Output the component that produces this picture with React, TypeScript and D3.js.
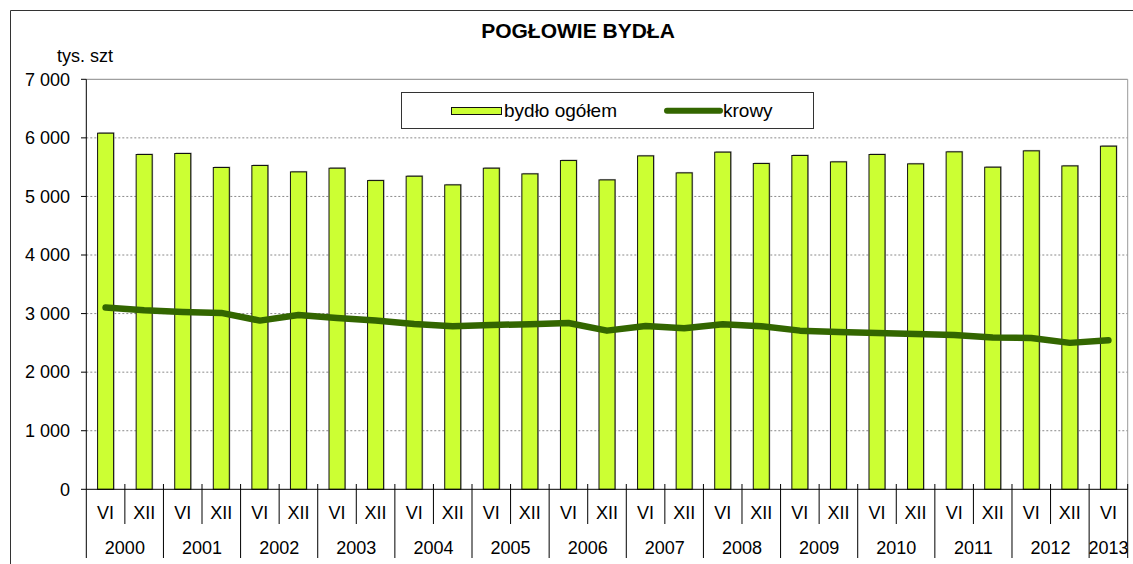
import React from "react";
import * as d3 from "d3";

const periods = ["VI","XII","VI","XII","VI","XII","VI","XII","VI","XII","VI","XII","VI","XII","VI","XII","VI","XII","VI","XII","VI","XII","VI","XII","VI","XII","VI"];
const years = ["2000","2001","2002","2003","2004","2005","2006","2007","2008","2009","2010","2011","2012","2013"];
const cattle = [6080,5716,5733,5494,5528,5419,5482,5271,5345,5197,5482,5385,5613,5282,5692,5402,5756,5562,5699,5590,5716,5556,5761,5499,5778,5521,5858];
const cows = [3103,3057,3028,3012,2880,2977,2926,2880,2824,2784,2806,2818,2840,2709,2789,2749,2818,2784,2709,2687,2670,2653,2636,2590,2584,2500,2544];
const yTicks = [0,1000,2000,3000,4000,5000,6000,7000];
const seriesNames = ["bydło ogółem","krowy"];
const title = "POGŁOWIE BYDŁA";
const unit = "tys. szt";

const W = 1133, H = 564;
const left = 86.3, right = 1127.7, top = 79.3, bottom = 489.3;
const FONT = "'Liberation Sans', Arial, sans-serif";
const BAR = "#CCFF33";
const LINE = "#336600";

export default function App() {
  const idx = d3.range(cattle.length);
  const x = d3.scaleBand<number>().domain(idx).range([left, right]).paddingInner(0.585).paddingOuter(0.2925);
  const y = d3.scaleLinear().domain([0, 7000]).range([bottom, top]);
  const step = x.step();
  const cx = (i: number) => (x(i) as number) + x.bandwidth() / 2;
  const line = d3.line<number>().x((_, i) => cx(i)).y(d => y(d));
  const fmt = (v: number) => d3.format(",")(v).replace(",", " ");
  const boundary = (k: number) => left + step * k;
  const n = cattle.length;

  return (
    <svg width={W} height={H} style={{ position: "absolute", left: 0, top: 0, background: "#fff" }} fontFamily={FONT}>
      <rect x={0} y={0} width={W} height={H} fill="#fff" />
      {/* outer border */}
      <line x1={10.5} y1={10.5} x2={W + 5} y2={10.5} stroke="#333" strokeWidth={1} />
      <line x1={10.5} y1={10.5} x2={10.5} y2={H + 5} stroke="#333" strokeWidth={1} />

      <text x={578} y={37.5} textAnchor="middle" fontWeight="bold" fontSize={21} fill="#000">{title}</text>
      <text x={57} y={62} fontSize={18} fill="#000">{unit}</text>

      {/* gridlines */}
      {yTicks.filter(t => t > 0 && t < 7000).map(t => (
        <line key={t} x1={left} x2={right} y1={y(t)} y2={y(t)} stroke="#8a8a8a" strokeWidth={1} strokeDasharray="2,2" />
      ))}
      <line x1={left} x2={right} y1={y(7000)} y2={y(7000)} stroke="#888" strokeWidth={1} />
      <line x1={right} x2={right} y1={top} y2={bottom} stroke="#999" strokeWidth={1} />

      {/* bars */}
      {cattle.map((v, i) => (
        <g key={i}>
          <rect x={(x(i) as number) + 1} y={y(v) - 1} width={x.bandwidth()} height={bottom - y(v) + 1} fill="#aaa" />
          <rect x={x(i) as number} y={y(v)} width={x.bandwidth()} height={bottom - y(v)} fill={BAR} stroke="#111" strokeWidth={1} />
        </g>
      ))}

      {/* line */}
      <path d={line(cows) || ""} fill="none" stroke={LINE} strokeWidth={6.5} strokeLinecap="round" strokeLinejoin="round" />

      {/* y axis */}
      <line x1={left} x2={left} y1={top} y2={558} stroke="#000" strokeWidth={1} />
      {yTicks.map(t => (
        <g key={t}>
          <line x1={81} x2={left} y1={y(t)} y2={y(t)} stroke="#000" strokeWidth={1} />
          <text x={70} y={y(t)} dy="0.35em" textAnchor="end" fontSize={18} fill="#000">{fmt(t)}</text>
        </g>
      ))}

      {/* x axis */}
      <line x1={left} x2={right} y1={bottom} y2={bottom} stroke="#000" strokeWidth={1} />
      {d3.range(1, n + 1).map(k => {
        const isYear = k % 2 === 0 || k === n;
        return <line key={k} x1={boundary(k)} x2={boundary(k)} y1={484} y2={isYear ? 558 : 524} stroke="#000" strokeWidth={1} />;
      })}
      {periods.map((p, i) => (
        <text key={i} x={cx(i)} y={519} textAnchor="middle" fontSize={18} fill="#000">{p}</text>
      ))}
      {years.map((yr, j) => {
        const s = j * 2;
        const e = Math.min(j * 2 + 2, n);
        return <text key={yr} x={(boundary(s) + boundary(e)) / 2} y={554} textAnchor="middle" fontSize={18} fill="#000">{yr}</text>;
      })}

      {/* legend */}
      <rect x={401.5} y={92.5} width={412} height={36} fill="#fff" stroke="#333" strokeWidth={1} />
      <rect x={451.5} y={107.5} width={50} height={7} fill={BAR} stroke="#111" strokeWidth={1} />
      <text x={504} y={117} fontSize={19} fill="#000">{seriesNames[0]}</text>
      <line x1={667} x2={720} y1={110.7} y2={110.7} stroke={LINE} strokeWidth={6} strokeLinecap="round" />
      <text x={723} y={117} fontSize={19} fill="#000">{seriesNames[1]}</text>
    </svg>
  );
}
